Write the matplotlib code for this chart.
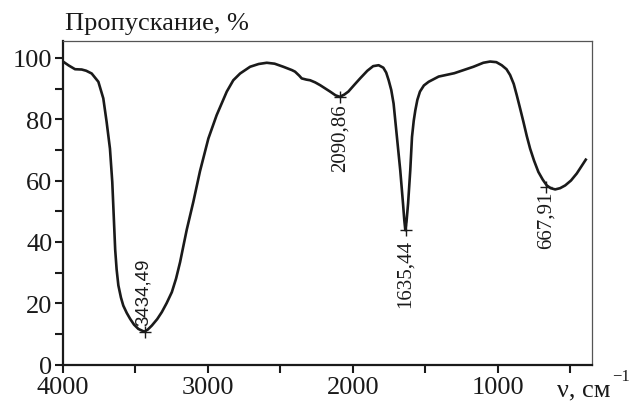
import matplotlib
matplotlib.use("Agg")
import matplotlib.pyplot as plt
from matplotlib.ticker import FixedLocator

wavenumber = [4000, 3960, 3917, 3871, 3840, 3802, 3756, 3722, 3699, 3676, 3660, 3650, 3640,
              3630, 3618, 3600, 3584, 3560, 3537, 3510, 3480, 3439, 3415, 3387, 3350, 3318,
              3285, 3249, 3220, 3192, 3170, 3146, 3101, 3055, 2997, 2940, 2870, 2825, 2778,
              2709, 2650, 2594, 2540, 2480, 2420, 2399, 2370, 2353, 2320, 2295, 2260, 2226,
              2157, 2120, 2091, 2060, 2031, 1990, 1950, 1900, 1860, 1822, 1790, 1770, 1753,
              1735, 1719, 1696, 1673, 1654, 1645, 1638, 1630, 1619, 1604, 1592, 1580, 1569,
              1555, 1537, 1510, 1477, 1408, 1300, 1237, 1168, 1100, 1053, 1010, 973, 940, 915,
              890, 869, 846, 823, 800, 777, 750, 720, 690, 662, 635, 604, 570, 535, 495, 455,
              393]
transmittance = [98.8, 97.5, 96.3, 96.2, 95.8, 94.9, 92.2, 86.8, 79.1, 70.4, 59.5, 48.5, 37.5,
                 31.0, 25.8, 21.8, 19.2, 16.8, 14.9, 13.0, 11.6, 10.7, 11.4, 12.7, 14.8, 17.1,
                 20.0, 23.6, 28.0, 33.4, 38.5, 44.0, 53.0, 63.0, 73.7, 81.3, 89.0, 92.7, 94.9,
                 97.1, 98.0, 98.4, 98.1, 97.1, 96.0, 95.5, 94.2, 93.3, 92.9, 92.7, 92.0, 91.1,
                 89.0, 87.8, 87.3, 88.0, 89.0, 91.2, 93.3, 95.8, 97.3, 97.6, 96.8, 95.2, 92.7,
                 89.5, 85.1, 74.2, 63.3, 52.5, 47.0, 43.8, 46.5, 52.5, 63.3, 74.2, 79.5, 82.9,
                 86.3, 89.0, 91.0, 92.2, 93.9, 95.0, 96.0, 97.1, 98.4, 98.8, 98.6, 97.6, 96.3,
                 94.4, 91.5, 87.8, 83.5, 79.1, 74.5, 70.4, 66.5, 62.8, 60.3, 58.4, 57.5, 57.1,
                 57.5, 58.4, 60.0, 62.3, 66.8]

peak_x = [3434.49, 2090.86, 1635.44, 667.91]
peak_y = [10.7, 87.3, 43.8, 58.0]
peak_labels = ["3434,49", "2090,86", "1635,44", "667,91"]
peak_side = ["above", "below", "below", "below"]

x_major = [4000, 3000, 2000, 1000]
x_minor = [3500, 2500, 1500, 500]
y_major = [0, 20, 40, 60, 80, 100]
y_minor = [10, 30, 50, 70, 90]

serif = "Liberation Serif"
sans = "Liberation Sans"
ink = "#1a1a1a"

fig = plt.figure(figsize=(6.29, 4.02), dpi=100)
ax = fig.add_axes([63/629, 1 - 365.5/402, (592 - 63)/629, (365.5 - 42)/402])

ax.plot(wavenumber, transmittance, color=ink, lw=1.9, solid_joinstyle="round")
ax.set_xlim(4000, 350)
ax.set_ylim(0, 105.5)

offsets = {"3434,49": 5, "2090,86": -5, "1635,44": -6.5, "667,91": -3}
for x, y, lab, side in zip(peak_x, peak_y, peak_labels, peak_side):
    ax.plot([x], [y], marker="+", ms=9, mew=1.0, color=ink)
    if side == "above":
        ax.annotate(lab, (x, y), xytext=(-1, offsets[lab]), textcoords="offset points",
                    rotation=90, ha="center", va="bottom", fontsize=13.5,
                    family=sans, color=ink)
    else:
        ax.annotate(lab, (x, y), xytext=(0, offsets[lab]), textcoords="offset points",
                    rotation=90, ha="center", va="top", fontsize=15,
                    family=serif, color=ink)

ax.xaxis.set_major_locator(FixedLocator(x_major))
ax.xaxis.set_minor_locator(FixedLocator(x_minor))
ax.yaxis.set_major_locator(FixedLocator(y_major))
ax.yaxis.set_minor_locator(FixedLocator(y_minor))
ax.set_xticklabels([str(v) for v in x_major])
ax.set_yticklabels([str(v) for v in y_major])

ax.tick_params(which="both", direction="out", length=6, width=1.5, color=ink,
               labelsize=19, labelcolor=ink, pad=1.5)
ax.tick_params(axis="x", which="both", top=False, pad=2.5)
ax.tick_params(axis="y", which="both", right=False)
for lab in ax.get_xticklabels() + ax.get_yticklabels():
    lab.set_family(serif)

for s in ["left", "bottom"]:
    ax.spines[s].set_linewidth(1.6)
    ax.spines[s].set_color(ink)
for s in ["top", "right"]:
    ax.spines[s].set_linewidth(0.9)
    ax.spines[s].set_color("#555555")

fig.text(65/629, 1 - 30/402, "Пропускание, %", family=serif, fontsize=19,
         color=ink, ha="left", va="baseline")
fig.text(557/629, 1 - 396/402, "ν, см", family=serif, fontsize=19,
         color=ink, ha="left", va="baseline")
fig.text(612/629, 1 - 381/402, "−1", family=serif, fontsize=12,
         color=ink, ha="left", va="baseline")

fig.savefig("out.png", dpi=100)
